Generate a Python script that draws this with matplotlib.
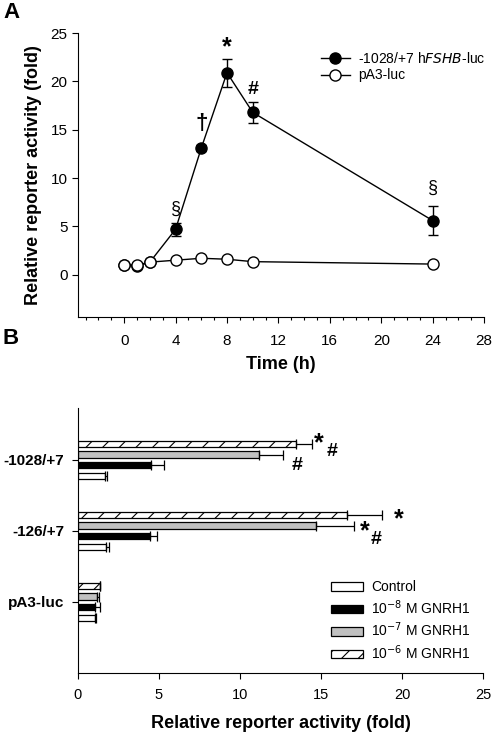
import numpy as np
import matplotlib
matplotlib.use('Agg')
import matplotlib.pyplot as plt
from matplotlib.ticker import MultipleLocator
from matplotlib.lines import Line2D

plt.rcParams['font.family'] = ['Liberation Sans', 'DejaVu Sans']
plt.rcParams['hatch.linewidth'] = 0.8

# panel A: time course
time_h = [0, 1, 2, 4, 6, 8, 10, 24]
fshb = [1.0, 0.9, 1.3, 4.7, 13.1, 20.9, 16.8, 5.6]
fshb_err = [0.05, 0.1, 0.1, 0.7, 0.3, 1.45, 1.1, 1.5]
pa3 = [1.0, 1.0, 1.3, 1.5, 1.7, 1.6, 1.35, 1.1]
pa3_err = [0.05, 0.05, 0.05, 0.1, 0.1, 0.1, 0.1, 0.1]
sig_a = [(4, 6.8, '\u00a7', 'normal', 13), (6, 15.6, '\u2020', 'bold', 16),
         (8, 23.5, '*', 'bold', 18), (10, 19.2, '#', 'bold', 14),
         (24, 8.9, '\u00a7', 'normal', 13)]

# panel B: dose response
constructs = ['-1028/+7', '-126/+7', 'pA3-luc']
treatments = ['Control', '10$^{-8}$ M GNRH1', '10$^{-7}$ M GNRH1', '10$^{-6}$ M GNRH1']
values = [[1.67, 4.53, 11.17, 13.48],
          [1.75, 4.43, 14.71, 16.63],
          [1.03, 1.07, 1.17, 1.34]]
errors = [[0.12, 0.78, 1.5, 0.95],
          [0.16, 0.45, 2.3, 2.15],
          [0.1, 0.27, 0.11, 0.04]]

fig = plt.figure(figsize=(4.96, 7.36), dpi=100)

ax1 = fig.add_axes([0.157, 0.569, 0.819, 0.386])
ax1.errorbar(time_h, fshb, yerr=fshb_err, color='k', marker='o', ms=8,
             mfc='k', mec='k', lw=1, capsize=3.5, elinewidth=1, zorder=3)
ax1.errorbar(time_h, pa3, yerr=pa3_err, color='k', marker='o', ms=8,
             mfc='white', mec='k', lw=1, capsize=3.5, elinewidth=1, zorder=4)
for x, y, s, w, fs in sig_a:
    ax1.text(x, y, s, ha='center', va='center', fontsize=fs, fontweight=w)
ax1.set_xlim(-3.6, 28)
ax1.set_ylim(-4.4, 25)
ax1.set_xticks(range(0, 29, 4))
ax1.xaxis.set_minor_locator(MultipleLocator(1))
ax1.set_yticks(range(0, 26, 5))
ax1.spines['top'].set_visible(False)
ax1.spines['right'].set_visible(False)
ax1.tick_params(labelsize=11, length=4, width=0.8)
ax1.tick_params(axis='x', pad=8)
ax1.tick_params(which='minor', length=2.5, width=0.8)
ax1.set_xlabel('Time (h)', fontsize=13, fontweight='bold', labelpad=6)
ax1.set_ylabel('Relative reporter activity (fold)', fontsize=13, fontweight='bold',
               labelpad=6)
leg_handles = [Line2D([], [], color='k', lw=1, marker='o', ms=8, mfc='k', mec='k'),
               Line2D([], [], color='k', lw=1, marker='o', ms=8, mfc='white', mec='k')]
ax1.legend(leg_handles, ['-1028/+7 h$\\it{FSHB}$-luc', 'pA3-luc'],
           loc='upper right', bbox_to_anchor=(1.035, 0.98), frameon=False,
           fontsize=10, handlelength=2.1, labelspacing=0.15, handletextpad=0.6)
fig.text(0.006, 0.983, 'A', fontsize=16, fontweight='bold', va='center')

ax2 = fig.add_axes([0.157, 0.0856, 0.817, 0.36])
centers = np.array([3, 2, 1])
offsets = [-0.225, -0.075, 0.075, 0.225]
faces = ['white', 'black', '#c0c0c0', 'white']
hatches = [None, None, None, '//']
for j in range(4):
    vals = [values[i][j] for i in range(3)]
    errs = [errors[i][j] for i in range(3)]
    ax2.barh(centers + offsets[j], vals, height=0.09, color=faces[j],
             edgecolor='k', linewidth=0.9, hatch=hatches[j],
             xerr=[np.zeros(3), errs], capsize=3.5,
             error_kw=dict(elinewidth=0.9, capthick=0.9), label=treatments[j])
sig_b = [(14.85, 3.24, '*', 18), (15.7, 3.12, '#', 14), (13.5, 2.92, '#', 14),
         (19.8, 2.16, '*', 18), (17.7, 2.0, '*', 18), (18.4, 1.88, '#', 14)]
for x, y, s, fs in sig_b:
    ax2.text(x, y, s, ha='center', va='center', fontsize=fs, fontweight='bold')
ax2.set_xlim(0, 25)
ax2.set_ylim(0, 3.73)
ax2.set_xticks(range(0, 26, 5))
ax2.set_yticks(centers)
ax2.set_yticklabels(constructs, fontweight='bold')
ax2.spines['top'].set_visible(False)
ax2.spines['right'].set_visible(False)
ax2.tick_params(labelsize=10.5, length=4, width=0.8)
ax2.tick_params(axis='x', pad=7)
ax2.tick_params(axis='y', labelsize=11, pad=6)
ax2.set_xlabel('Relative reporter activity (fold)', fontsize=13,
               fontweight='bold', labelpad=9)
handles, labels = ax2.get_legend_handles_labels()
ax2.legend(handles, labels, loc='lower right', bbox_to_anchor=(1.0, -0.005),
           frameon=False, fontsize=10, handlelength=2.3, handleheight=0.6,
           labelspacing=0.28, handletextpad=0.6)
fig.text(0.006, 0.54, 'B', fontsize=16, fontweight='bold', va='center')

fig.savefig('out.png', dpi=100)
